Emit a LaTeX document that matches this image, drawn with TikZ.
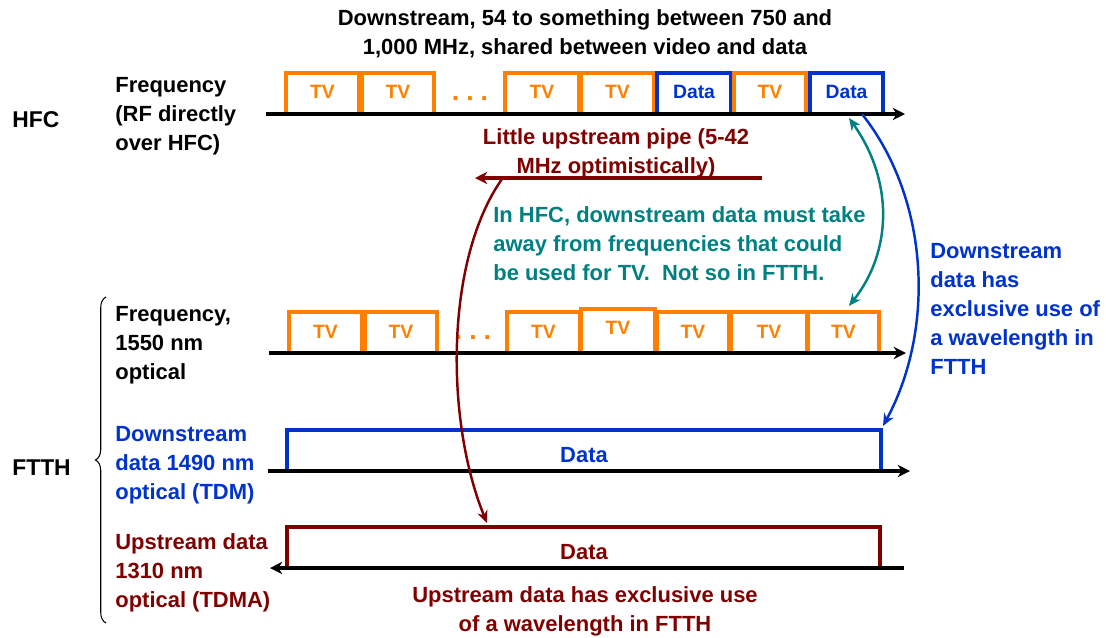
\documentclass[tikz,border=0pt]{standalone}
\usepackage{fontspec}
\setmainfont{Liberation Sans}
\usetikzlibrary{arrows.meta,decorations.pathreplacing}

\definecolor{tvorange}{RGB}{255,128,0}
\definecolor{datablue}{RGB}{0,51,204}
\definecolor{upred}{RGB}{128,0,0}
\definecolor{noteteal}{RGB}{0,128,128}

\begin{document}
\begin{tikzpicture}[x=0.02cm, y=-0.02cm,
    txt/.style={font=\bfseries\fontsize{12.5}{16.5}\selectfont, inner sep=0pt},
    boxlbl/.style={font=\bfseries\fontsize{11}{13}\selectfont, inner sep=0pt},
    dots/.style={font=\bfseries\fontsize{15}{15}\selectfont, inner sep=0pt, anchor=base, text=tvorange},
    axis/.style={line width=1.8pt, -{Stealth[length=7pt,width=7pt]}},
    slot/.style={line width=2pt},
    link/.style={line width=1.4pt, -{Stealth[length=7pt,width=6pt]}},
]
    \useasboundingbox (0,0) rectangle (1106,637);

    % heading and the two systems
    \node[txt, align=center] (head) at (585,34) {Downstream, 54 to something between 750 and\\1,000 MHz, shared between video and data};
    \node[txt, font=\bfseries\fontsize{13}{15}\selectfont, anchor=west] (hfc) at (12,120) {HFC};
    \node[txt, font=\bfseries\fontsize{13}{15}\selectfont, anchor=west] (ftth) at (12,468) {FTTH};
    \draw[decorate, decoration={brace, amplitude=6pt}, line width=0.6pt] (106,623) -- (106,297);

    % row labels
    \node[txt, align=left, anchor=west] (rflbl) at (115,116) {Frequency\\(RF directly\\over HFC)};
    \node[txt, align=left, anchor=west] (optlbl) at (115,345) {Frequency,\\1550 nm\\optical};
    \node[txt, align=left, anchor=west, text=datablue] (dnlbl) at (115,465) {Downstream\\data 1490 nm\\optical (TDM)};
    \node[txt, align=left, anchor=west, text=upred] (uplbl) at (115,573) {Upstream data\\1310 nm\\optical (TDMA)};

    % HFC channels
    \foreach \xa/\xb/\c/\t [count=\i] in {286/359/tvorange/TV, 362/434/tvorange/TV, 505/579/tvorange/TV, 581/654/tvorange/TV, 657/731/datablue/Data, 734/806/tvorange/TV, 810/883/datablue/Data}{
        \draw[slot, color=\c] (\xa,114) |- (\xb,73) -- (\xb,114);
        \node[boxlbl, text=\c] (rf\i) at ({(\xa+\xb)/2},92) {\t};
    }
    \node[dots] (rfdots) at (470,100) {.\hspace{4pt}.\hspace{4pt}.};
    \draw[axis] (266,114) -- (905,114);
    \coordinate (rftop) at (849,118);
    \coordinate (rfdata) at (862,114);

    % upstream pipe in HFC
    \node[txt, text=upred, align=center] (pipe) at (616,153) {Little upstream pipe (5-42\\MHz optimistically)};
    \coordinate (pipeR) at (762,178);
    \coordinate (pipeL) at (475,178);
    \coordinate (pipeS) at (502,179);
    \draw[upred, line width=2.2pt, -{Stealth[length=7pt,width=7pt]}] (pipeR) -- (pipeL);

    \node[txt, text=noteteal, align=left, anchor=west] (note) at (493,244) {In HFC, downstream data must take\\away from frequencies that could\\be used for TV.\ \ Not so in FTTH.};

    % 1550 nm channels
    \foreach \xa/\xb/\yt/\yl [count=\i] in {289/362/312/332, 365/437/312/332, 507/580/312/332, 581/655/309/328, 657/729/312/332, 731/807/312/332, 808/879/312/332}{
        \draw[slot, tvorange] (\xa,353) |- (\xb,\yt) -- (\xb,353);
        \node[boxlbl, text=tvorange] (opt\i) at ({(\xa+\xb)/2},\yl) {TV};
    }
    \node[dots] (optdots) at (473,339) {.\hspace{4pt}.\hspace{4pt}.};
    \draw[axis] (269,353) -- (906,353);
    \coordinate (opttop) at (849,306);

    % 1490 nm downstream
    \draw[slot, datablue] (287,470) |- (881,430) -- (881,470);
    \node[txt, text=datablue] (dndata) at (584,455) {Data};
    \draw[axis] (268,471) -- (910,471);
    \coordinate (dntop) at (883,426);

    % 1310 nm upstream
    \draw[slot, upred] (287,568) |- (880,527) -- (880,568);
    \node[txt, text=upred] (updata) at (584,552) {Data};
    \draw[axis] (904,568) -- (270,568);
    \coordinate (uptop) at (487,523);

    \node[txt, text=upred, align=center] (upnote) at (585,611) {Upstream data has exclusive use\\of a wavelength in FTTH};
    \node[txt, text=datablue, align=left, anchor=west] (excl) at (930,309) {Downstream\\data has\\exclusive use of\\a wavelength in\\FTTH};

    % curved pointers
    \draw[link, noteteal, {Stealth[length=7pt,width=6pt]}-{Stealth[length=7pt,width=6pt]}] (rftop) .. controls (893,180) and (893,250) .. (opttop);
    \draw[link, datablue] (rfdata) .. controls (930,200) and (935,330) .. (dntop);
    \draw[link, upred] (pipeS) .. controls (445,260) and (445,420) .. (uptop);
\end{tikzpicture}
\end{document}
